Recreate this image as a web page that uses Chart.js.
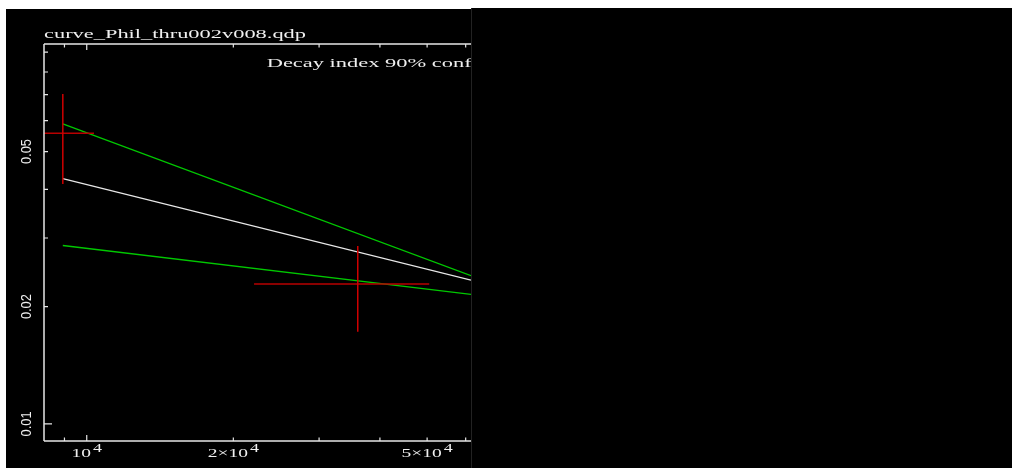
<!DOCTYPE html>
<html>
<head>
<meta charset="utf-8">
<title>curve_Phil_thru002v008.qdp</title>
<script src="https://cdn.jsdelivr.net/npm/chart.js@4.4.1/dist/chart.umd.min.js"></script>
<style>
  html, body { margin: 0; padding: 0; background: #fff; width: 1012px; height: 468px; overflow: hidden; }
  #panel { position: absolute; left: 6px; top: 9px; width: 1006px; height: 459px; background: #000; }
  #rightPanel { position: absolute; left: 471px; top: 8px; width: 541px; height: 460px; background: #000; border-left: 1px solid #222; }
  #wrap { position: absolute; left: 6px; top: 9px; width: 465px; height: 459px; }
</style>
</head>
<body>
<div id="panel"></div>
<div id="rightPanel"></div>
<div id="wrap"><canvas id="lc"></canvas></div>
<script>
// axis limits (log-log)
const xMin = 8170, xMax = 61530;
const yMin = 0.00904, yMax = 0.0944;

// data points with error bars
const errX    = [8930, 36020];
const errXLo  = [7510, 22060];
const errXHi  = [10350, 50500];
const errY    = [0.0557, 0.02287];
const errYLo  = [0.0413, 0.01725];
const errYHi  = [0.0703, 0.02863];

// decay model lines (best fit and 90% bounds)
const lineX   = [8930, 61530];
const bestFit = [0.0426, 0.0234];
const upper90 = [0.0589, 0.0240];
const lower90 = [0.0287, 0.0215];

// ticks and labels
const xMajorTicks = [10000];
const xMinorTicks = [9000, 20000, 30000, 40000, 50000, 60000];
const yMajorTicks = [0.01];
const yMinorTicks = [0.02, 0.03, 0.04, 0.05, 0.06, 0.07, 0.08, 0.09];
const xLabelValues = [10000, 20000, 50000];
const xLabelBase = ['10', '2\u00d710', '5\u00d710'];
const xLabelExp = ['4', '4', '4'];
const yLabelValues = [0.01, 0.02, 0.05];
const yTickLabels = ['0.01', '0.02', '0.05'];

const titleText = 'curve_Phil_thru002v008.qdp';
const noteText = 'Decay index 90% conf';

const AXIS = '#e6e6e6';
const RED = '#d00000';
const GREEN = '#00c800';
const WHITE = '#e8e8e8';
const SERIF = '"Liberation Serif"';

function seg(x1, y1, x2, y2) {
    return [{ x: x1, y: y1 }, { x: x2, y: y2 }];
}

const errDatasets = [];
errX.forEach((x, i) => {
    errDatasets.push({ data: seg(x, errYLo[i], x, errYHi[i]), borderColor: RED, borderWidth: 1.5 });
    errDatasets.push({ data: seg(errXLo[i], errY[i], errXHi[i], errY[i]), borderColor: '#b80000', borderWidth: 1.5 });
});

const modelDatasets = [
    { data: lineX.map((x, i) => ({ x, y: bestFit[i] })), borderColor: WHITE, borderWidth: 1.2 },
    { data: lineX.map((x, i) => ({ x, y: upper90[i] })), borderColor: GREEN, borderWidth: 1.3 },
    { data: lineX.map((x, i) => ({ x, y: lower90[i] })), borderColor: GREEN, borderWidth: 1.3 }
];

// wide stroke-font look: stretch text horizontally to a target width
function wideText(ctx, text, x, y, width) {
    const w = ctx.measureText(text).width;
    ctx.save();
    ctx.translate(x, y);
    ctx.scale(width / w, 1);
    ctx.fillText(text, 0, 0);
    ctx.restore();
}

// qdp style frame: inward ticks, rotated y labels, superscript x labels
const qdpFrame = {
    id: 'qdpFrame',
    afterDatasetsDraw(chart) {
        const { ctx, chartArea: a, scales: { x, y } } = chart;
        ctx.save();
        ctx.strokeStyle = AXIS;
        ctx.lineWidth = 1.5;
        ctx.beginPath();
        ctx.moveTo(a.left, a.top); ctx.lineTo(a.left, a.bottom);
        ctx.moveTo(a.left, a.bottom); ctx.lineTo(a.right, a.bottom);
        ctx.moveTo(a.left, a.top); ctx.lineTo(a.right, a.top);
        ctx.stroke();

        ctx.lineWidth = 1.2;
        ctx.beginPath();
        const xt = (v, len) => {
            const px = x.getPixelForValue(v);
            ctx.moveTo(px, a.bottom); ctx.lineTo(px, a.bottom - len);
            ctx.moveTo(px, a.top); ctx.lineTo(px, a.top + len);
        };
        const yt = (v, len) => {
            const py = y.getPixelForValue(v);
            ctx.moveTo(a.left, py); ctx.lineTo(a.left + len, py);
        };
        xMajorTicks.forEach(v => xt(v, 6));
        xMinorTicks.forEach(v => xt(v, 3.5));
        yMajorTicks.forEach(v => yt(v, 8));
        yMinorTicks.forEach(v => yt(v, 4));
        ctx.stroke();

        ctx.fillStyle = '#f0f0f0';
        ctx.textAlign = 'left';
        ctx.textBaseline = 'alphabetic';
        // title and note
        ctx.font = '13px ' + SERIF;
        wideText(ctx, titleText, 38, 28.5, 262);
        wideText(ctx, noteText, 260.7, 57.7, 205);

        // y labels, rotated
        ctx.font = '15px "Liberation Sans"';
        yLabelValues.forEach((v, i) => {
            const py = y.getPixelForValue(v);
            ctx.save();
            ctx.translate(21, py);
            ctx.rotate(-Math.PI / 2);
            ctx.textBaseline = 'middle';
            wideText(ctx, yTickLabels[i], -12.5, 0, 25);
            ctx.restore();
        });

        // x labels with superscript exponent
        const sx = 1.5;
        xLabelValues.forEach((v, i) => {
            const px = x.getPixelForValue(v);
            ctx.font = '13px ' + SERIF;
            const wb = ctx.measureText(xLabelBase[i]).width * sx;
            ctx.font = '12px ' + SERIF;
            const we = ctx.measureText(xLabelExp[i]).width * sx;
            const start = px - (wb + we + 2) / 2;
            ctx.font = '13px ' + SERIF;
            wideText(ctx, xLabelBase[i], start, 448.3, wb);
            ctx.font = '12px ' + SERIF;
            wideText(ctx, xLabelExp[i], start + wb + 2, 442.5, we);
        });
        ctx.restore();
    }
};

new Chart(document.getElementById('lc'), {
    type: 'line',
    data: { datasets: errDatasets.concat(modelDatasets) },
    options: {
        responsive: true,
        maintainAspectRatio: false,
        animation: false,
        layout: { padding: { top: 35, left: 0, right: 0, bottom: 0 } },
        elements: { point: { radius: 0 }, line: { tension: 0 } },
        datasets: { line: { clip: 0, fill: false } },
        plugins: { legend: { display: false }, tooltip: { enabled: false }, title: { display: false } },
        scales: {
            x: {
                type: 'logarithmic',
                min: xMin,
                max: xMax,
                bounds: 'data',
                grid: { display: false },
                border: { display: false },
                ticks: { display: false },
                afterFit: (s) => { s.height = 27; }
            },
            y: {
                type: 'logarithmic',
                min: yMin,
                max: yMax,
                bounds: 'data',
                grid: { display: false },
                border: { display: false },
                ticks: { display: false },
                afterFit: (s) => { s.width = 38; }
            }
        }
    },
    plugins: [qdpFrame]
});
</script>
</body>
</html>
